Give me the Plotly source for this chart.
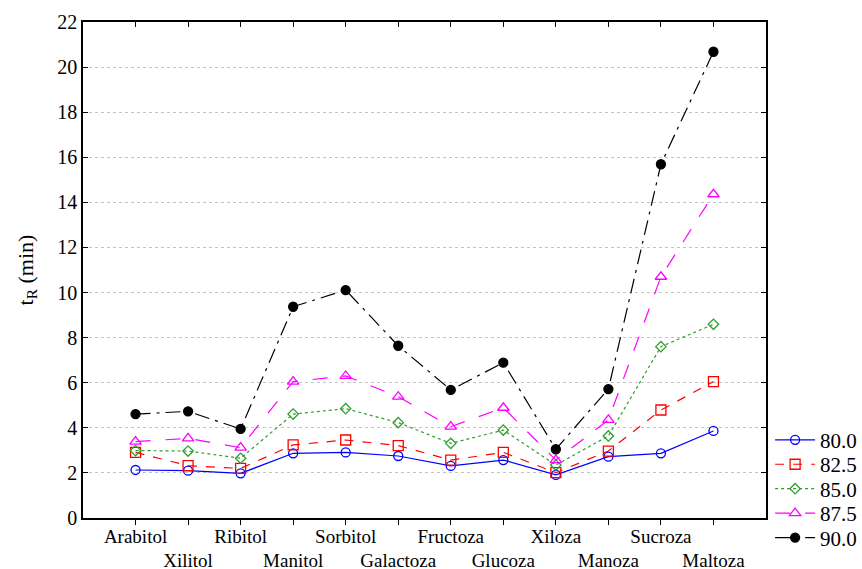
import plotly.graph_objects as go

categories = ["Arabitol", "Xilitol", "Ribitol", "Manitol", "Sorbitol", "Galactoza",
              "Fructoza", "Glucoza", "Xiloza", "Manoza", "Sucroza", "Maltoza"]
s80_0 = [2.13, 2.10, 1.98, 2.87, 2.91, 2.75, 2.31, 2.57, 1.91, 2.72, 2.87, 3.86]
s82_5 = [2.91, 2.32, 2.20, 3.24, 3.46, 3.21, 2.57, 2.91, 2.01, 2.97, 4.79, 6.05]
s85_0 = [2.99, 2.97, 2.65, 4.61, 4.85, 4.23, 3.31, 3.90, 2.35, 3.64, 7.60, 8.59]
s87_5 = [3.39, 3.53, 3.12, 6.05, 6.30, 5.38, 4.05, 4.89, 2.57, 4.35, 10.70, 14.36]
s90_0 = [4.61, 4.73, 3.95, 9.37, 10.11, 7.64, 5.68, 6.89, 3.05, 5.72, 15.69, 20.68]
y_ticks = [0, 2, 4, 6, 8, 10, 12, 14, 16, 18, 20, 22]

series = [
    ("80.0", s80_0, "#0000ff", "solid", "circle-open", 9),
    ("82.5", s82_5, "#ff0000", "dash", "square-open", 10),
    ("85.0", s85_0, "#2ca02c", "dot", "diamond-open", 8),
    ("87.5", s87_5, "#ff00ff", "longdash", "triangle-up-open", 10),
    ("90.0", s90_0, "#000000", "longdashdot", "circle", 9),
]

x_idx = list(range(len(categories)))
tick_text = [c if i % 2 == 0 else "<br>" + c for i, c in enumerate(categories)]
font_family = "Liberation Serif, Times New Roman, serif"

fig = go.Figure()
legend_ids = ["legend", "legend2", "legend3", "legend4", "legend5"]
for (name, vals, color, dash, sym, size), lid in zip(series, legend_ids):
    fig.add_trace(go.Scatter(
        x=x_idx, y=vals, name=name, mode="lines+markers", legend=lid,
        line=dict(color=color, width=1.2, dash=dash),
        marker=dict(symbol=sym, size=size, color=color, line=dict(color=color, width=1.3)),
    ))

# invisible trace to render the top axis
fig.add_trace(go.Scatter(x=[None], y=[None], xaxis="x2", showlegend=False, hoverinfo="skip"))

legend_layout = {}
for k, lid in enumerate(legend_ids):
    legend_layout[lid] = dict(
        x=1.006, xanchor="left", y=0.157 - k * 0.0493, yanchor="middle",
        font=dict(size=21, family=font_family), itemwidth=40,
        bgcolor="rgba(0,0,0,0)")

fig.update_layout(
    width=862, height=569,
    margin=dict(l=83, r=96, t=22, b=51, autoexpand=False),
    paper_bgcolor="white", plot_bgcolor="white",
    font=dict(family=font_family, size=20, color="black"),
    showlegend=True,
    xaxis=dict(range=[-1, 12], tickvals=x_idx, ticktext=tick_text, tickangle=0,
               automargin=False, ticklabelstandoff=-5,
               ticks="outside", ticklen=5, tickcolor="black", tickwidth=1,
               showline=True, linecolor="black", linewidth=1.5,
               showgrid=False, zeroline=False,
               tickfont=dict(size=19, family=font_family)),
    xaxis2=dict(range=[-1, 12], tickvals=x_idx, overlaying="x", side="top",
                ticks="inside", ticklen=5, tickcolor="black",
                showticklabels=False, showline=True, linecolor="black", linewidth=1.5,
                showgrid=False, zeroline=False),
    yaxis=dict(range=[0, 22], tickvals=y_ticks, automargin=False,
               ticks="inside", ticklen=5, tickcolor="black", mirror="ticks",
               showline=True, linecolor="black", linewidth=1.5,
               showgrid=True, gridcolor="#c4c4c4", gridwidth=1, griddash="dot",
               zeroline=False,
               tickfont=dict(size=20, family=font_family),
               title=dict(text="t<sub>R</sub> (min)", font=dict(size=22, family=font_family),
                          standoff=18)),
    **legend_layout,
)

fig.write_html("out.html")
